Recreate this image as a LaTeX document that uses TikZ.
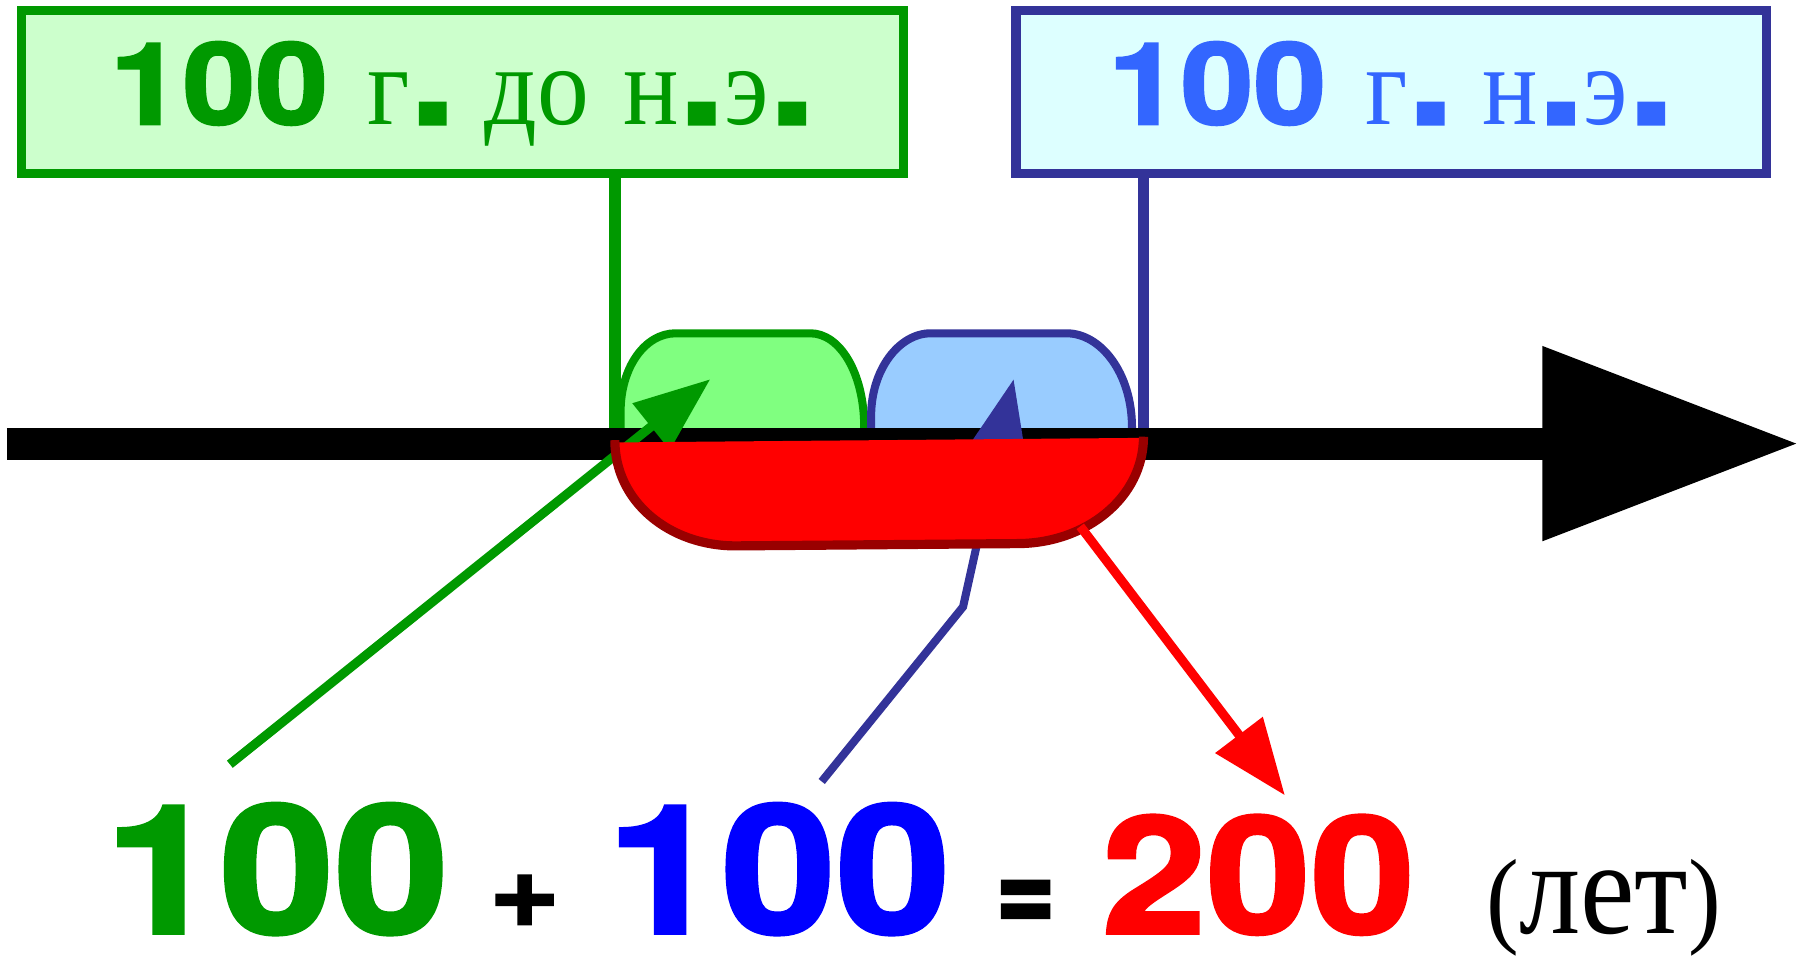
\documentclass[tikz,border=0pt]{standalone}
\usepackage{fontspec}
\usetikzlibrary{arrows.meta}
\newfontfamily\digfont{TeX Gyre Heros}[FakeStretch=1.15, BoldFeatures={FakeBold=2}]
\newfontfamily\serfont{Liberation Serif}[FakeStretch=0.92]
\definecolor{gstroke}{HTML}{009900}
\definecolor{gfill}{HTML}{CCFFCC}
\definecolor{gtab}{HTML}{80FF80}
\definecolor{bstroke}{HTML}{333399}
\definecolor{bfill}{HTML}{DDFFFF}
\definecolor{btext}{HTML}{3366FF}
\definecolor{btab}{HTML}{99CCFF}
\definecolor{rdark}{HTML}{990000}
\definecolor{pureblue}{HTML}{0000FF}
\newcommand\digtop{\digfont\bfseries\fontsize{99}{99}\selectfont}
\newcommand\sertop{\serfont\mdseries\fontsize{98}{98}\selectfont}
\newcommand\bigdot{{\digfont\bfseries\fontsize{125}{125}\selectfont.}}
\tikzset{
  every node/.style={inner sep=0pt, outer sep=0pt},
  labelbox/.style={line width=8pt, minimum height=142pt, text height=76pt, text depth=20pt},
  gboxst/.style={labelbox, draw=gstroke, fill=gfill, text=gstroke, minimum width=767pt},
  bboxst/.style={labelbox, draw=bstroke, fill=bfill, text=btext, minimum width=653pt},
  tip/.style={-{Triangle[length=66pt,width=50pt]}},
  bignum/.style={anchor=base, font=\digfont\bfseries\fontsize{156}{156}\selectfont},
}
\begin{document}
\begin{tikzpicture}[x=1pt,y=-1pt]
\useasboundingbox (0,0) rectangle (1568,832);
% label boxes
\node[gboxst] (gbox) at (402.5,80) {\digtop 100\hspace{34pt}\sertop г\bigdot\hspace{25pt}\sertop до\hspace{30pt}\sertop н\bigdot\sertop э\bigdot};
\node[bboxst] (bbox) at (1210.5,80) {\digtop 100\hspace{34pt}\sertop г\bigdot\hspace{25pt}\sertop н\bigdot\sertop э\bigdot};
% stubs
\coordinate (gstub) at (535,386);
\coordinate (bstub) at (995,384);
\draw[gstroke, line width=10pt] (gbox.south -| gstub) -- (gstub);
\draw[bstroke, line width=9pt] (bbox.south -| bstub) -- (bstub);
% tabs
\filldraw[draw=gstroke, fill=gtab, line width=7pt] (540,388) -- (540,358) .. controls (540,320) and (561,290) .. (588,290) -- (705,290) .. controls (731,290) and (752,325) .. (752,372) -- (752,388);
\filldraw[draw=bstroke, fill=btab, line width=7pt] (758,388) -- (758,362) .. controls (758,322) and (782,290) .. (810,290) -- (928,290) .. controls (958,290) and (985,325) .. (985,372) -- (985,388);
% axis
\coordinate (axs) at (6,386);
\coordinate (axe) at (1565,386);
\draw[line width=28pt, -{Triangle[length=223pt,width=162pt]}] (axs) -- (axe);
% pointers
\coordinate (gst) at (200,665);
\coordinate (gtip) at (618,330);
\draw[gstroke, line width=8pt, tip] (gst) -- (gtip);
\coordinate (bst) at (715,680);
\coordinate (bbend) at (838,528);
\coordinate (btip) at (882,330);
\draw[bstroke, line width=7pt, tip] (bst) -- (bbend) -- (btip);
% red span
\fill[red] (535,385) .. controls (535,437) and (583,475) .. (640,475) -- (885,473) .. controls (945,473) and (995,433) .. (995,381) -- cycle;
\draw[rdark, line width=8pt] (535,383) .. controls (535,437) and (583,475) .. (640,475) -- (885,473) .. controls (945,473) and (995,433) .. (995,380);
\coordinate (rst) at (940,458);
\coordinate (rtip) at (1118,692);
\draw[red, line width=8pt, tip] (rst) -- (rtip);
% equation
\node[bignum, text=gstroke] (ga) at (241,812) {100};
\node[anchor=base, font=\digfont\bfseries\fontsize{92}{92}\selectfont] (plus) at (456.5,806) {+};
\node[bignum, text=pureblue] (ba) at (677.5,812) {100};
\node[anchor=base, font=\digfont\bfseries\fontsize{95}{95}\selectfont] (eq) at (892.5,811) {\scalebox{0.82}[1.2]{=}};
\node[anchor=base, text=red, font=\digfont\bfseries\fontsize{142}{142}\selectfont] (ra) at (1095,812) {200};
\node[anchor=base] (yrs) at (1395.5,812) {{\serfont\fontsize{93}{93}\selectfont(}{\serfont\fontsize{116}{116}\selectfont лет}{\serfont\fontsize{93}{93}\selectfont)}};
\end{tikzpicture}
\end{document}
